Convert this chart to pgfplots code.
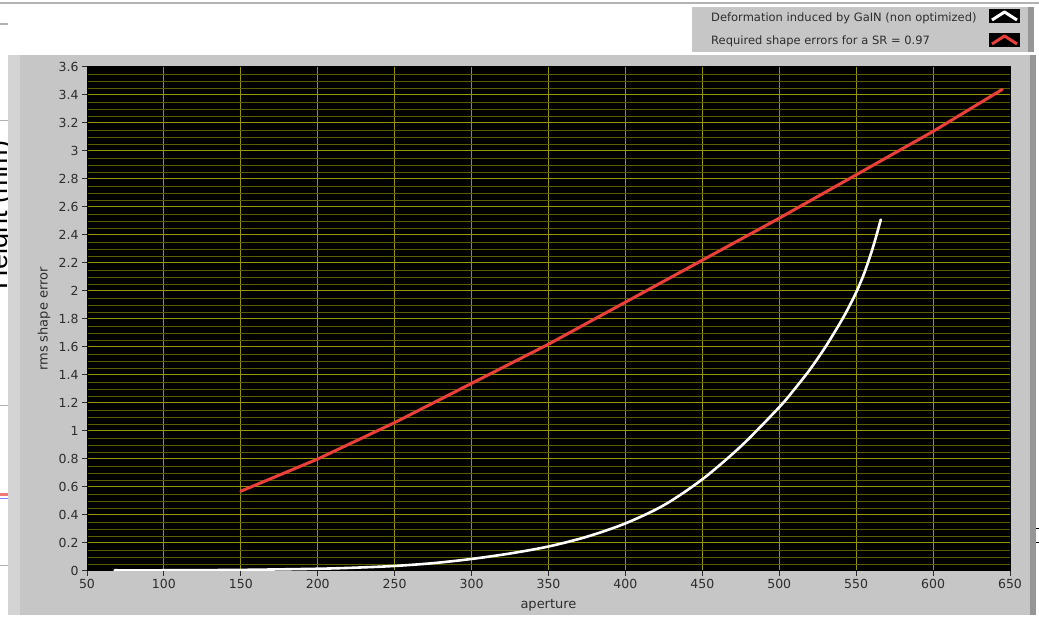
\documentclass[border=0pt]{standalone}
\usepackage{fontspec}
\setmainfont{DejaVu Sans}
\newfontfamily\arialfont{Liberation Sans}
\usepackage{pgfplots}
\pgfplotsset{compat=1.18}
\definecolor{panel}{RGB}{198,198,198}
\definecolor{panellight}{RGB}{212,212,212}
\definecolor{paneldark}{RGB}{150,150,150}
\definecolor{majgrid}{RGB}{150,150,0}
\definecolor{mingrid}{RGB}{92,92,0}
\definecolor{redline}{RGB}{235,64,58}
\definecolor{txt}{RGB}{45,45,45}

\pgfplotstableread{
x y
150 0.57
200 0.80
250 1.06
300 1.34
350 1.62
400 1.92
450 2.22
500 2.52
550 2.83
600 3.14
645 3.44
}\requiredtable

\pgfplotstableread{
x y
68 0.005
100 0.005
150 0.008
200 0.016
225 0.024
250 0.036
275 0.056
300 0.086
325 0.125
350 0.175
375 0.245
400 0.34
425 0.47
450 0.655
475 0.89
500 1.17
510 1.30
520 1.44
530 1.60
540 1.78
545 1.88
550 1.99
555 2.12
560 2.28
563 2.39
566 2.51
}\gaintable

\begin{document}
\begin{tikzpicture}[x=1pt,y=1pt]
\useasboundingbox (0,0) rectangle (1039,620);
\clip (0,0) rectangle (1039,620);
\fill[white] (0,0) rectangle (1039,620);
% stray elements of the surrounding window
\draw[gray!60, line width=1.5pt] (0,617) -- (1039,617);
\draw[gray!60, line width=1.2pt] (0,596) -- (8,596);
\draw[gray!60] (0,500) -- (8,500);
\draw[gray!60] (0,215) -- (8,215);
\draw[gray!60] (0,55) -- (8,55);
\fill[redline!70] (0,124) rectangle (8,127);
\draw[blue!50] (0,122) -- (8,122);
\node[rotate=90, anchor=base, font=\arialfont\fontsize{27}{30}\selectfont, inner sep=0pt] at (7,405) {Height (mm)};
\draw[black] (1035,92) -- (1039,92);
\draw[black] (1035,78) -- (1039,78);
% panel
\fill[panel] (8,5) rectangle (1036,565);
\fill[panellight] (8,5) rectangle (20,565);
\fill[paneldark] (1030,5) rectangle (1036,565);
% legend
\fill[panel] (692,568) rectangle (1034,613);
\fill[paneldark] (1028,568) rectangle (1034,613);
\node[anchor=west, font=\fontsize{11.5}{13}\selectfont, text=txt, inner sep=0pt] at (711,602) {Deformation induced by GaIN (non optimized)};
\node[anchor=west, font=\fontsize{11.5}{13}\selectfont, text=txt, inner sep=0pt] at (711,579) {Required shape errors for a SR = 0.97};
\fill[black] (989,597) rectangle (1020,611);
\draw[white, line width=3pt, line join=round] (992,600) -- (1004.5,608) -- (1017,600);
\fill[black] (989,573) rectangle (1020,587);
\draw[redline, line width=3pt, line join=round] (992,576) -- (1004.5,584) -- (1017,576);

\begin{axis}[
  at={(87pt,49pt)}, anchor=south west,
  width=923pt, height=504pt, scale only axis,
  xmin=50, xmax=650, ymin=0, ymax=3.6,
  xtick={50,100,150,200,250,300,350,400,450,500,550,600,650},
  ytick={0,0.2,0.4,0.6,0.8,1,1.2,1.4,1.6,1.8,2,2.2,2.4,2.6,2.8,3,3.2,3.4,3.6},
  minor y tick num=3,
  grid=both,
  major grid style={majgrid, line width=1pt},
  minor grid style={mingrid, line width=0.9pt},
  axis background/.style={fill=black},
  axis line style={black, line width=1pt},
  tick align=outside,
  tick pos=left,
  major tick length=5pt,
  minor tick length=0pt,
  tick style={txt, line width=1pt},
  ticklabel style={font=\fontsize{12.5}{14}\selectfont, text=txt},
  /pgf/number format/assume math mode=true,
  xlabel={aperture},
  ylabel={rms shape error},
  label style={font=\fontsize{13}{15}\selectfont, text=txt},
  xlabel style={at={(axis description cs:0.5,-0.0675)}, anchor=center},
  ylabel style={at={(axis description cs:-0.0466,0.5)}, anchor=center},
  clip=true,
]
\addplot[redline, line width=3pt, line cap=round] table[x=x,y=y] {\requiredtable};
\addplot[white, line width=2.6pt, smooth, line cap=round] table[x=x,y=y] {\gaintable};
\end{axis}
\end{tikzpicture}
\end{document}
